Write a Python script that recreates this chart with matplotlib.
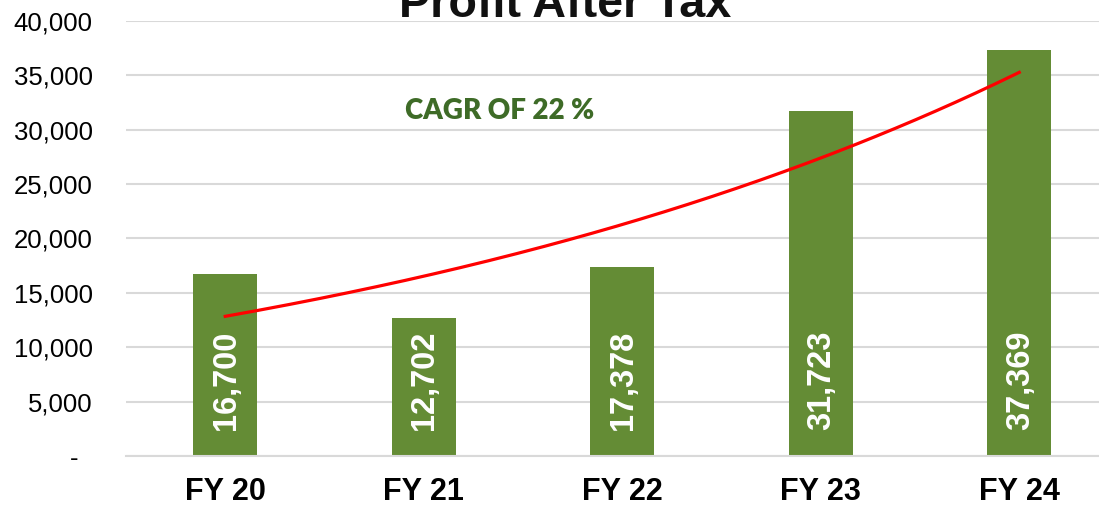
import numpy as np
import matplotlib
matplotlib.use("Agg")
import matplotlib.pyplot as plt
from matplotlib.ticker import FuncFormatter

categories = ["FY 20", "FY 21", "FY 22", "FY 23", "FY 24"]
profit = [16700, 12702, 17378, 31723, 37369]
title = "Profit After Tax"
cagr_text = "CAGR OF 22 %"

bar_color = "#648C35"
grid_color = "#D9D9D9"

fig = plt.figure(figsize=(10.99, 5.08), dpi=100)
ax = fig.add_axes([126 / 1099, 1 - 456 / 508, 992.5 / 1099, 435 / 508])

x = np.arange(len(categories))
bars = ax.bar(x, profit, width=0.32, color=bar_color, zorder=2)

# exponential trendline (fit to the bar values, as an Excel trendline)
b, a = np.polyfit(x, np.log(profit), 1)
xs = np.linspace(x[0], x[-1], 200)
ax.plot(xs, np.exp(a + b * xs), color="#FF0000", lw=2.3, zorder=3)

ax.set_xlim(-0.5, len(categories) - 0.5)
ax.set_ylim(0, 40000)
ax.set_yticks(np.arange(0, 40001, 5000))
ax.yaxis.set_major_formatter(FuncFormatter(lambda v, p: "-  " if v == 0 else f"{int(v):,}"))
ax.grid(axis="y", color=grid_color, lw=1.5, zorder=0)
ax.set_axisbelow(True)
for s in ["top", "right", "left"]:
    ax.spines[s].set_visible(False)
ax.spines["bottom"].set_color(grid_color)
ax.spines["bottom"].set_linewidth(1.5)

ax.tick_params(axis="y", length=0, pad=24, labelsize=18.5, labelcolor="#000000")
ax.tick_params(axis="x", length=0, pad=15)
ax.set_xticks(x)
ax.set_xticklabels(categories, fontsize=22, fontweight="bold", family="Liberation Sans")
for lbl in ax.get_yticklabels():
    lbl.set_family("Liberation Sans")

for xi, v in zip(x, profit):
    ax.annotate(f"{v:,}", xy=(xi, 0), xytext=(1, 26), textcoords="offset pixels",
                rotation=90, ha="center", va="bottom", color="white",
                fontsize=23.5, fontweight="bold", family="Liberation Sans", zorder=4)

ax.text(1.38, 31700, cagr_text, color="#3E6B27", fontsize=20, fontweight="heavy",
        family="Lato", ha="center", va="center")

fig.text(565 / 1099, 1 - 17 / 508, title, ha="center", va="baseline",
         fontsize=33.7, fontweight="bold", family="Liberation Sans", color="#111111")

fig.savefig("out.png", dpi=100)
